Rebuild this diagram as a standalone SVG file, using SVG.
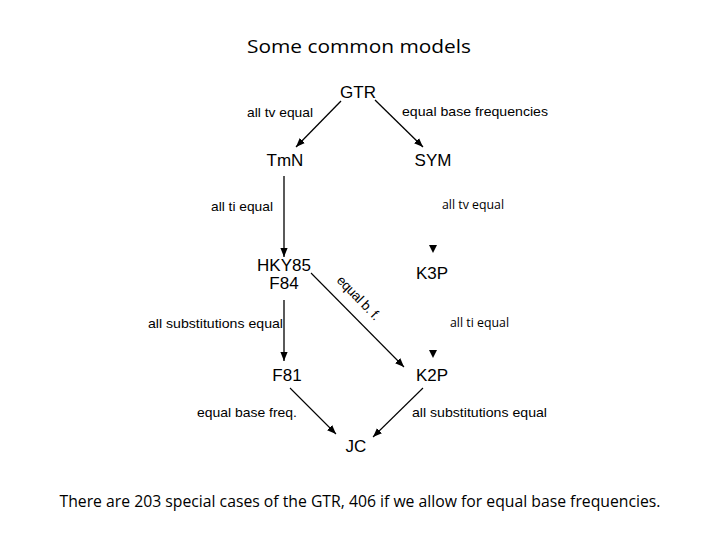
<svg xmlns="http://www.w3.org/2000/svg" width="720" height="540" viewBox="0 0 720 540">
<defs>
<marker id="ah" viewBox="0 0 10 10" refX="10" refY="5" markerWidth="9" markerHeight="9" markerUnits="userSpaceOnUse" orient="auto">
<path d="M0,1 L10,5 L0,9 Z" fill="#000"/>
</marker>
</defs>
<style>
.node{font-family:"Liberation Sans",Arial,sans-serif;font-size:17px;fill:#000;text-anchor:middle}
.lbl{font-family:"Liberation Sans",Arial,sans-serif;font-size:13.5px;fill:#000}
.cal{font-family:"Open Sans","Liberation Sans",sans-serif;font-size:12px;fill:#000}
.slide{font-family:"Open Sans","Liberation Sans",sans-serif;fill:#000}
.edge{stroke:#000;stroke-width:1.3;fill:none;marker-end:url(#ah)}
.thin{stroke:#000;stroke-width:1.1;fill:none;marker-end:url(#ah)}
</style>
<rect width="720" height="540" fill="#fff"/>
<text class="slide" x="359" y="53" font-size="19" text-anchor="middle" textLength="224" lengthAdjust="spacingAndGlyphs">Some common models</text>
<g id="connectors">
<line class="edge" x1="341" y1="101" x2="296" y2="147"/>
<line class="edge" x1="375" y1="100" x2="423" y2="147"/>
<line class="edge" x1="284" y1="176" x2="284" y2="257"/>
<line class="edge" x1="284" y1="300" x2="284" y2="361"/>
<line class="thin" x1="311" y1="273" x2="404" y2="367"/>
<line class="thin" x1="290" y1="388" x2="336" y2="434"/>
<line class="thin" x1="423" y1="388" x2="373" y2="437"/>
<path d="M429,245 L437,245 L433,253 Z" fill="#000"/>
<path d="M429,350 L437,350 L433,358 Z" fill="#000"/>
</g>
<g id="GTR"><text class="node" x="358" y="98">GTR</text></g>
<g id="TmN"><text class="node" x="285" y="166">TmN</text></g>
<g id="SYM"><text class="node" x="433" y="166">SYM</text></g>
<g id="HKY85"><text class="node" x="284" y="271">HKY85</text><text class="node" x="284" y="289">F84</text></g>
<g id="K3P"><text class="node" x="432" y="279">K3P</text></g>
<g id="F81"><text class="node" x="287" y="381">F81</text></g>
<g id="K2P"><text class="node" x="432" y="381">K2P</text></g>
<g id="JC"><text class="node" x="356" y="452">JC</text></g>
<g id="labels">
<text class="lbl" x="247" y="117" textLength="66" lengthAdjust="spacingAndGlyphs">all tv equal</text>
<text class="lbl" x="402" y="116" textLength="146" lengthAdjust="spacingAndGlyphs">equal base frequencies</text>
<text class="lbl" x="211" y="211" textLength="62" lengthAdjust="spacingAndGlyphs">all ti equal</text>
<text class="lbl" x="148" y="328" textLength="135" lengthAdjust="spacingAndGlyphs">all substitutions equal</text>
<text class="lbl" x="197" y="417" textLength="100" lengthAdjust="spacingAndGlyphs">equal base freq.</text>
<text class="lbl" x="412" y="417" textLength="135" lengthAdjust="spacingAndGlyphs">all substitutions equal</text>
<text class="cal" x="442" y="209" textLength="62" lengthAdjust="spacingAndGlyphs">all tv equal</text>
<text class="cal" x="450" y="327" textLength="59" lengthAdjust="spacingAndGlyphs">all ti equal</text>
<text class="lbl" font-size="8" transform="translate(336,281) rotate(46)" textLength="56" lengthAdjust="spacing">equal b. f.</text>
</g>
<text class="slide" x="360" y="507" font-size="15.5" text-anchor="middle" textLength="601" lengthAdjust="spacingAndGlyphs">There are 203 special cases of the GTR, 406 if we allow for equal base frequencies.</text>
</svg>
